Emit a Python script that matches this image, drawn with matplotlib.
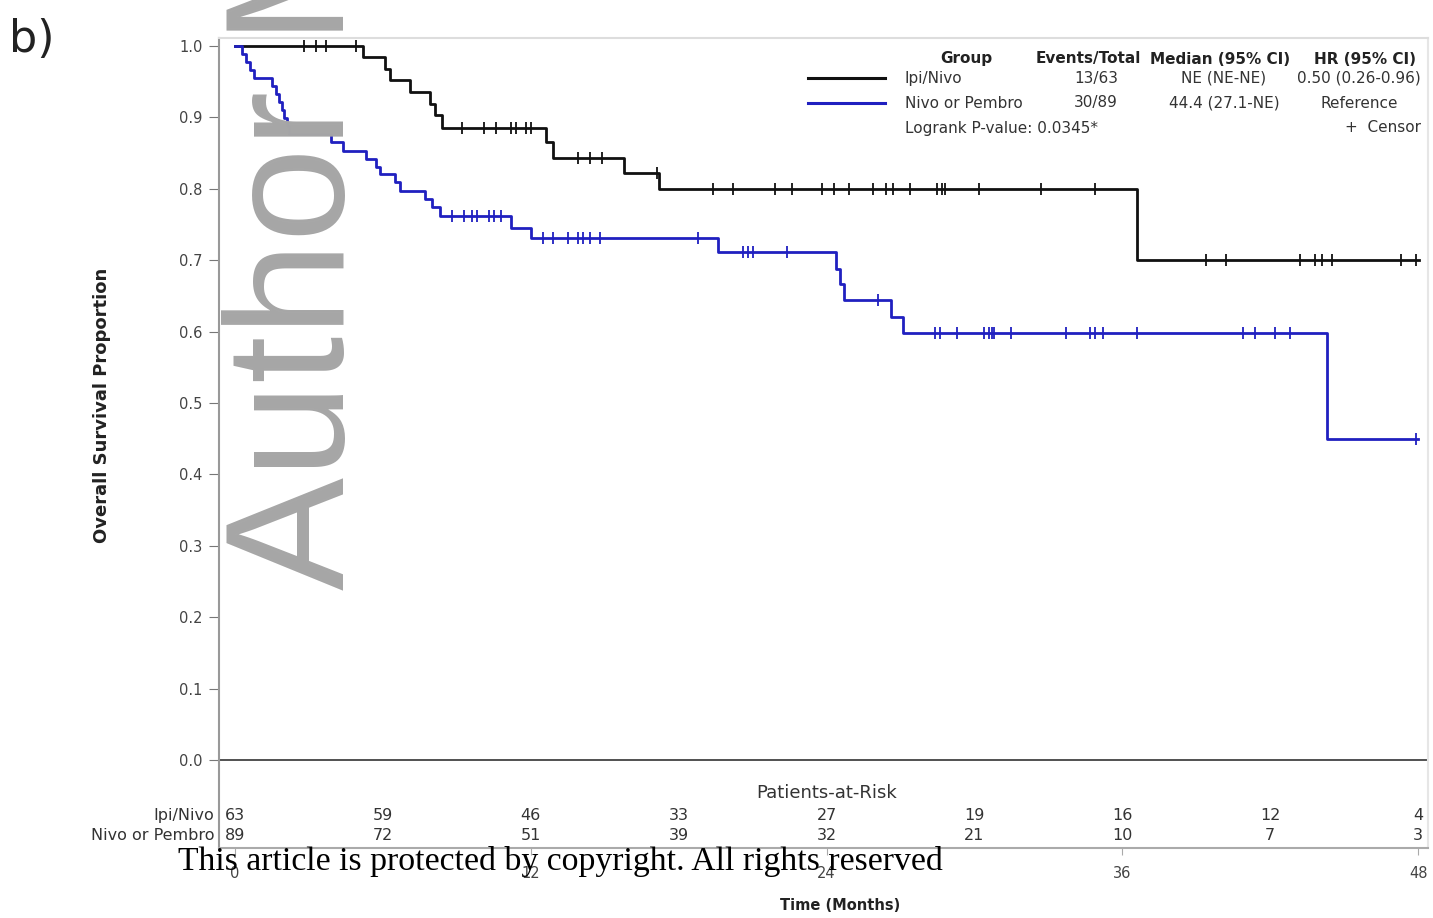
import numpy as np
import matplotlib.pyplot as plt
import matplotlib.transforms as mtransforms

# Kaplan-Meier steps: time (months) and survival after each drop
ipi_t = [0, 5.2, 6.1, 6.3, 7.1, 7.9, 8.1, 8.4, 12.6, 12.9, 15.8, 17.2, 36.6, 48.05]
ipi_s = [1.0, 0.984, 0.968, 0.952, 0.935, 0.919, 0.903, 0.885, 0.865, 0.843, 0.822, 0.799, 0.700, 0.700]
ipi_cens = [2.8, 3.3, 3.7, 4.9, 9.2, 10.1, 10.6, 11.2, 11.4, 11.8, 12.0, 13.9, 14.4, 14.9, 17.1,
            19.4, 20.2, 21.9, 22.6, 23.8, 24.3, 24.9, 25.9, 26.4, 26.7, 27.4, 28.5, 28.7, 28.8,
            30.2, 32.7, 34.9, 39.4, 40.2, 43.2, 43.8, 44.1, 44.5, 47.3, 47.9]

nivo_t = [0, 0.3, 0.45, 0.6, 0.75, 1.5, 1.65, 1.8, 1.9, 2.0, 2.1, 2.2, 3.9, 4.4, 5.3, 5.7, 5.9,
          6.5, 6.7, 7.7, 8.0, 8.3, 11.2, 12.0, 19.6, 24.4, 24.55, 24.7, 26.6, 27.1, 44.3, 48.0]
nivo_s = [1.0, 0.989, 0.978, 0.966, 0.955, 0.944, 0.933, 0.921, 0.910, 0.899, 0.888, 0.876, 0.865,
          0.853, 0.842, 0.831, 0.820, 0.809, 0.797, 0.786, 0.775, 0.762, 0.745, 0.731, 0.711, 0.688,
          0.666, 0.644, 0.621, 0.598, 0.449, 0.449]
nivo_cens = [8.8, 9.3, 9.6, 9.8, 10.3, 10.5, 10.8, 12.5, 12.9, 13.5, 13.9, 14.1, 14.4, 14.8, 18.8,
             20.6, 20.8, 21.0, 22.4, 26.1, 28.4, 28.6, 29.3, 30.4, 30.6, 30.7, 30.8, 31.5, 33.7,
             34.7, 34.9, 35.2, 36.6, 40.9, 41.4, 42.2, 42.8, 47.9]

risk_times = [0, 6, 12, 18, 24, 30, 36, 42, 48]
ipi_risk = [63, 59, 46, 33, 27, 19, 16, 12, 4]
nivo_risk = [89, 72, 51, 39, 32, 21, 10, 7, 3]

groups = ["Ipi/Nivo", "Nivo or Pembro"]
events = ["13/63", "30/89"]
medians = ["NE (NE-NE)", "44.4 (27.1-NE)"]
hrs = ["0.50 (0.26-0.96)", "Reference"]

black = "#111111"
blue = "#2020c0"
plt.rcParams['font.family'] = ['DejaVu Sans']

fig = plt.figure(figsize=(14.33, 9.18), dpi=100)
ax = fig.add_axes([219 / 1433, 1 - 848 / 918, 1209 / 1433, 810 / 918])


def level_at(ts, ss, x):
    i = np.searchsorted(ts, x, side='right') - 1
    return np.array(ss)[i]


for ts, ss, cens, col in [(ipi_t, ipi_s, ipi_cens, black), (nivo_t, nivo_s, nivo_cens, blue)]:
    ax.step(ts, ss, where='post', color=col, lw=2.0, zorder=3)
    ax.plot(cens, level_at(ts, ss, cens), ls='none', marker='|', ms=9, mew=1.3, color=col, zorder=3)

ax.set_xlim(-0.65, 48.4)
ax.set_ylim(-0.123, 1.011)
ax.set_yticks(np.arange(0, 1.01, 0.1))
ax.set_yticklabels([f"{v:.1f}" for v in np.arange(0, 1.01, 0.1)])
ax.set_xticks([0, 12, 24, 36, 48])
ax.tick_params(axis='y', labelsize=10.5, colors='#777777', labelcolor='#444444', length=7, pad=5)
ax.tick_params(axis='x', labelsize=10.5, colors='#aaaaaa', labelcolor='#444444', length=5, pad=8)
ax.axhline(0, color='#333333', lw=1.2, zorder=2)
for side, col in [('left', '#999999'), ('bottom', '#aaaaaa'), ('top', '#dddddd'), ('right', '#e6e6e6')]:
    ax.spines[side].set_color(col)
    ax.spines[side].set_linewidth(1.5)

ax.set_ylabel("Overall Survival Proportion", fontsize=13, fontweight='bold', color='#222222')
ax.yaxis.set_label_coords(-0.089, (760 - 405) / 810 + 88 / 810)
fig.text(840 / 1433, 1 - 905 / 918, "Time (Months)", fontsize=10.5, fontweight='bold',
         ha='center', va='center', color='#222222')

# patients-at-risk table
ax.text(24, -0.046, "Patients-at-Risk", fontsize=13, ha='center', va='center', color='#333333')
trans = mtransforms.blended_transform_factory(ax.transAxes, ax.transData)
for row_y, name, vals in [(-0.078, groups[0], ipi_risk), (-0.106, groups[1], nivo_risk)]:
    ax.text(-0.004, row_y, name, transform=trans, fontsize=11.5, ha='right', va='center', color='#333333')
    for t, v in zip(risk_times, vals):
        ax.text(t, row_y, str(v), fontsize=11.5, ha='center', va='center', color='#333333')

# legend table in the upper right
def fx(px):
    return px / 1433


def fy(px):
    return 1 - px / 918


hdr = dict(fontsize=11, fontweight='bold', ha='center', va='center', color='#222222')
fig.text(fx(966), fy(59), "Group", **hdr)
fig.text(fx(1088), fy(59), "Events/Total", **hdr)
fig.text(fx(1220), fy(59), "Median (95% CI)", **hdr)
fig.text(fx(1365), fy(59), "HR (95% CI)", **hdr)
cell = dict(fontsize=11, va='center', color='#333333')
for i, (py, col) in enumerate([(78, black), (103, blue)]):
    fig.add_artist(plt.Line2D([fx(808), fx(885)], [fy(py), fy(py)], color=col, lw=2.2))
    fig.text(fx(905), fy(py), groups[i], ha='left', **cell)
    fig.text(fx(1096), fy(py), events[i], ha='center', **cell)
    fig.text(fx(1224), fy(py), medians[i], ha='center', **cell)
    fig.text(fx(1359), fy(py), hrs[i], ha='center', **cell)
fig.text(fx(905), fy(128), "Logrank P-value: 0.0345*", ha='left', **cell)
fig.text(fx(1421), fy(128), "+  Censor", ha='right', **cell)

# panel label, watermark and copyright line
fig.text(0.006, fy(40), "b)", fontsize=32, ha='left', va='center', color='#222222')
fig.text(fx(344), fy(590), "Author Manuscript", fontsize=122, family='Liberation Sans',
         color='#a6a6a6', rotation=90, rotation_mode='anchor', ha='left', va='baseline', zorder=10)
fig.text(fx(178), fy(870), "This article is protected by copyright. All rights reserved",
         fontsize=24.3, family='Liberation Serif', ha='left', va='baseline', color='black', zorder=10)

fig.savefig("out.png", dpi=100)
